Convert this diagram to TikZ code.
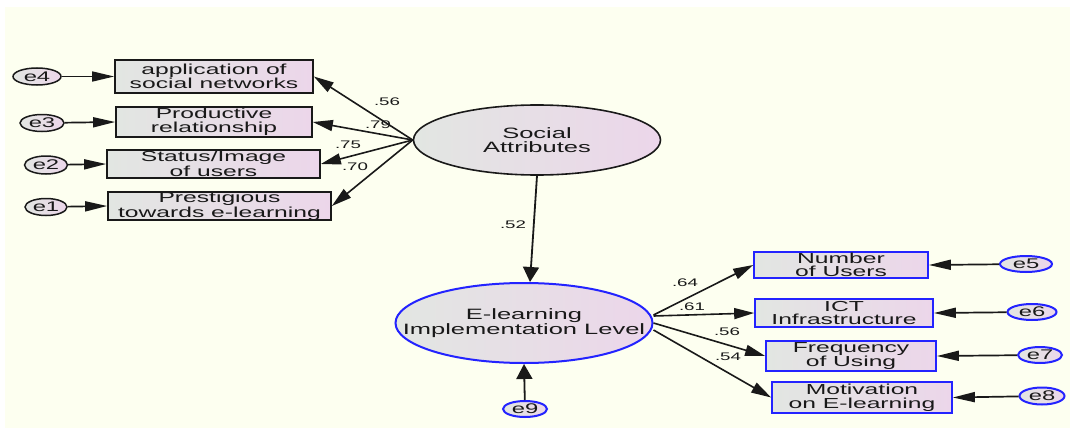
\documentclass[tikz,border=0pt]{standalone}
\usepackage{fontspec}
\setmainfont{Liberation Sans}[FakeStretch=1.7]
\usetikzlibrary{shapes.geometric,arrows.meta,calc}

\definecolor{bg}{RGB}{253,255,240}
\definecolor{shL}{RGB}{226,230,226}
\definecolor{shR}{RGB}{236,214,234}
\definecolor{rimblue}{RGB}{35,35,255}
\definecolor{ink}{RGB}{25,25,25}

\tikzset{
  obs/.style={rectangle, draw=ink, line width=1.7pt, left color=shL, right color=shR,
    inner sep=0pt, align=center, text=ink, font=\fontsize{14.5}{13.5}\selectfont},
  lat/.style={ellipse, draw=ink, line width=1.6pt, left color=shL, right color=shR,
    inner sep=0pt},
  lattext/.style={align=center, text=ink, inner sep=0pt, font=\fontsize{15}{14.5}\selectfont},
  err/.style={ellipse, draw=ink, line width=1.5pt, left color=shL, right color=shR,
    inner sep=0pt, text=ink, font=\fontsize{14}{14}\selectfont},
  bluerim/.style={draw=rimblue},
  hlink/.style={line width=1.7pt, draw=ink, -{Triangle[length=22pt,width=10pt]}},
  dlink/.style={line width=1.6pt, draw=ink, -{Triangle[length=20pt,width=11pt]}},
  vlink/.style={line width=1.8pt, draw=ink, -{Triangle[length=15pt,width=16pt]}},
  coef/.style={inner sep=0pt, text=ink, font=\fontsize{11}{11}\selectfont},
}

\begin{document}
\begin{tikzpicture}[x=1pt,y=-1pt]
  \useasboundingbox (0,0) rectangle (1073,428);
  \fill[white] (0,0) rectangle (1073,428);
  \fill[bg] (5,7) rectangle (1070,428);

  % social attributes construct and its indicators
  \node[lat, minimum width=247, minimum height=70,
        label={[lattext]center:Social\\Attributes}] (S) at (537,140) {};
  \node[obs, minimum width=198, minimum height=33] (b4) at (214,76.5) {application of\\social networks};
  \node[obs, minimum width=196, minimum height=30] (b3) at (214,122) {Productive\\relationship};
  \node[obs, minimum width=213, minimum height=28] (b2) at (213.5,164) {Status/Image\\of users};
  \node[obs, minimum width=223, minimum height=28] (b1) at (219.5,206) {Prestigious\\towards e-learning};

  \node[err, minimum width=48, minimum height=17] (e4) at (37,76.5) {e4};
  \node[err, minimum width=44, minimum height=17] (e3) at (42,123) {e3};
  \node[err, minimum width=43, minimum height=18] (e2) at (46,165) {e2};
  \node[err, minimum width=42, minimum height=17] (e1) at (46,207) {e1};

  % e-learning construct and its indicators
  \node[lat, bluerim, line width=2pt, minimum width=257, minimum height=80,
        label={[lattext]center:E-learning\\Implementation Level}] (E) at (524,323) {};
  \node[err, bluerim, line width=2pt, minimum width=44, minimum height=16] (e9) at (525,409) {e9};

  \node[obs, bluerim, minimum width=174, minimum height=26] (nu) at (841,265) {Number\\of Users};
  \node[obs, bluerim, minimum width=178, minimum height=28] (ict) at (844,313) {ICT\\Infrastructure};
  \node[obs, bluerim, minimum width=170, minimum height=30] (fq) at (851,356) {Frequency\\of Using};
  \node[obs, bluerim, minimum width=180, minimum height=31] (mo) at (862,397.5) {Motivation\\on E-learning};

  \node[err, bluerim, line width=2pt, minimum width=52, minimum height=16] (e5) at (1026,264) {e5};
  \node[err, bluerim, line width=2pt, minimum width=49, minimum height=16] (e6) at (1032,312) {e6};
  \node[err, bluerim, line width=2pt, minimum width=44, minimum height=16] (e7) at (1040,355) {e7};
  \node[err, bluerim, line width=2pt, minimum width=45, minimum height=17] (e8) at (1042,396) {e8};

  % error terms
  \draw[hlink] (e4) -- (b4.west);
  \draw[hlink] (e3) -- (b3.west);
  \draw[hlink] (e2) -- (b2.west);
  \draw[hlink] (e1) -- (b1.west);
  \draw[hlink] (e5) -- (nu.east);
  \draw[hlink] (e6) -- (ict.east);
  \draw[hlink] (e7) -- (fq.east);
  \draw[hlink] (e8) -- (mo.east);
  \draw[vlink] (e9) -- (E.south);

  % loadings
  \draw[dlink] (S.west) -- (b4.east);
  \draw[dlink] (S.west) -- (b3.east);
  \draw[dlink] (S.west) -- (b2.east);
  \draw[dlink] (S.west) -- (b1.east);
  \draw[vlink] (S.south) -- ($(E.north)+(6,0)$);
  \draw[dlink] ($(E.east)+(0,-8)$) -- (nu.west);
  \draw[dlink] ($(E.east)+(0,-7)$) -- (ict.west);
  \draw[dlink] (E.east) -- (fq.west);
  \draw[dlink] ($(E.east)+(0,7)$) -- (mo.west);

  % coefficients
  \node[coef] (c56a) at (387,102) {.56};
  \node[coef] (c79) at (378,125) {.79};
  \node[coef] (c75) at (348,145) {.75};
  \node[coef] (c70) at (355,167) {.70};
  \node[coef] (c52) at (513,225) {.52};
  \node[coef] (c64) at (685,283) {.64};
  \node[coef] (c61) at (692,307) {.61};
  \node[coef] (c56b) at (727,332) {.56};
  \node[coef] (c54) at (728,357) {.54};
\end{tikzpicture}
\end{document}
